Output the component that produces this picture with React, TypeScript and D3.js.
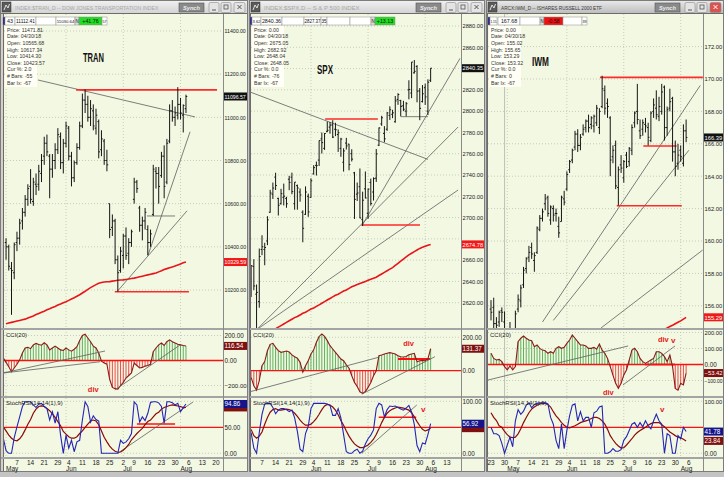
import React from "react";
import * as d3 from "d3";

const FONT = "'Liberation Sans', Arial, Helvetica, sans-serif";
const BG = "#F3F8E2";
const P_TOP = 14, P_BOT = 328, C_TOP = 330, C_BOT = 396, S_TOP = 398, S_BOT = 457, D_BOT = 471;

// trading-day calendar: index 0 = Mon 23 Apr 2018
const tickIdx = [0, 5, 10, 15, 20, 25, 29, 34, 39, 44, 49, 53, 58, 63, 68, 73, 78, 83];
const tickLbl = ["23", "30", "7", "14", "21", "29", "4", "11", "18", "25", "2", "9", "16", "23", "30", "6", "13", "20"];
const monthIdx = [6, 28, 49, 70];
const monthLbl = ["May", "Jun", "Jul", "Aug"];
const stochTicks = [100, 50, 0];

// ---------------- TRAN ----------------
const tranO = [10420,10400,10300,10280,10420,10440,10520,10560,10620,10680,10610,10690,10690,10740,10820,10880,10820,10760,10800,10850,10910,10790,10880,10950,10820,10720,10790,10860,10960,11080,11060,11000,11030,10950,10980,10850,10890,10800,10600,10490,10520,10340,10290,10360,10450,10370,10420,10620,10700,10580,10500,10520,10480,10420,10550,10750,10740,10730,10820,10700,10890,11030,11000,11010,11060,11010,11040];
const tranH = [10440,10410,10330,10420,10470,10530,10580,10640,10690,10760,10720,10740,10780,10830,10910,10920,10830,10830,10880,10950,10930,10900,10980,10960,10840,10800,10880,10980,11110,11130,11100,11080,11060,11040,10990,10940,10900,10850,10600,10550,10530,10360,10400,10460,10490,10440,10480,10720,10710,10590,10540,10580,10500,10480,10780,10770,10770,10840,10870,10900,11060,11080,11050,11140,11090,11060,11105];
const tranL = [10340,10290,10085,10250,10380,10410,10480,10540,10590,10600,10590,10640,10660,10700,10780,10820,10625,10720,10760,10830,10760,10740,10860,10800,10680,10700,10780,10850,10950,11020,10980,10960,10940,10920,10810,10820,10780,10750,10440,10450,10320,10192,10280,10300,10340,10320,10400,10600,10650,10470,10430,10480,10360,10400,10543,10670,10600,10720,10625,10690,10880,10980,10960,10990,10990,10930,11020];
const tranC = [10400,10310,10290,10410,10440,10510,10560,10620,10670,10620,10700,10680,10750,10800,10880,10840,10760,10800,10850,10920,10790,10880,10960,10820,10720,10790,10860,10960,11080,11060,11000,11040,10960,11010,10840,10900,10800,10780,10480,10520,10340,10280,10380,10450,10360,10420,10470,10700,10670,10500,10520,10560,10420,10460,10760,10740,10680,10820,10680,10880,11030,11000,11020,11060,11020,11055,11096.57];
const tranMA = [10044,10047,10050,10053,10056,10059,10062,10065,10070,10075,10080,10086,10091,10097,10102,10108,10113,10119,10124,10130,10135,10141,10146,10152,10158,10164,10171,10178,10186,10194,10203,10211,10218,10225,10231,10235,10237,10238,10239,10241,10243,10245,10246,10247,10249,10251,10253,10255,10258,10261,10264,10267,10270,10273,10276,10279,10284,10289,10295,10299,10303,10307,10311,10316,10321,10326,10329.59];
const tranCCI = [20,-15,-50,-90,-60,-30,5,60,100,105,95,124,137,128,122,142,125,85,100,115,100,85,80,100,85,75,90,110,160,200,210,180,150,115,100,60,-5,-20,-30,-150,-215,-225,-230,-200,-175,-140,-120,-100,-20,-40,-60,-55,-45,-40,-30,70,100,125,140,120,150,165,150,140,130,125,120,116.54];
const tranK = [29,5,0,0,30,51,70,90,99,99,99,93,88,95,96,90,86,64,80,58,80,35,0,35,10,25,3,22,25,64,99,90,60,72,65,62,0,0,0,0,0,0,0,25,19,22,28,38,99,93,60,70,63,77,98,99,99,97,90,58,99,99,97,93,96,80,88,94.86];
const tranD = [51,43,35,29,25,24,28,35,45,56,65,77,85,90,91,90,86,82,76,69,61,53,42,37,32,29,29,32,38,43,50,56,62,64,62,55,43,31,22,14,8,4,2,2.5,6,11,17,26,32,38,43,48,55,61,64,70,76,79,85,88,90,92,93,92,91,90,88,88.21];
const tranPTicks = [10200, 10400, 10600, 10800, 11000, 11200, 11400];
const tranCTicks = [200, 0, -200];
const tranGrayP = [[17.7, 11173, 75.3, 11002], [46.7, 10192, 72.4, 10567], [58.1, 10362, 73.5, 10933], [57.7, 10543, 68, 10543]];
const tranRedP = [[31.7, 11127, 83.4, 11127], [45.9, 10192, 73.1, 10192]];
const tranGrayC = [[4.9, -100, 42.3, 76], [4.9, -100, 40.5, -10], [45.9, -236, 69.8, 124]];
const tranRedC: number[][] = [];
const tranGrayS = [[47.1, 0.6, 74.6, 98.7]];
const tranRedS = [[54, 56.3, 68, 56.3]];
const tranNotes = [{ t: "div", i: 36, v: -250, pane: "c" }];
const tranInfo = ["Price: 11471.81", "Date: 04/30/18", "Open: 10565.68", "High: 10617.34", "Low: 10414.30", "Close: 10423.57", "Cur %: 2.0", "# Bars: -55", "Bar Ix: -67"];
const tranBar = [[3, 2, "", "#10108A"], [5, 10, "43", "#fff"], [15, 21, "11112.41", "#fff"], [36, 20, "", "#fff"], [56, 19, "11030.64", "#fff"], [75, 4, "N", "#ddd"], [79, 23, "+41.76", "#22DD22"], [102, 5, "57", "#fff"]];

// ---------------- SPX ----------------
const spxO = [2642,2654,2628,2621,2670,2670,2678,2705,2722,2738,2718,2713,2719,2718,2736,2738,2713,2730,2724,2705,2703,2720,2719,2741,2749,2754,2774,2765,2781,2785,2787,2783,2778,2765,2752,2770,2769,2760,2742,2722,2729,2698,2727,2704,2733,2724,2737,2768,2788,2779,2783,2796,2797,2790,2811,2810,2805,2800,2820,2817,2836,2842,2819,2809,2822,2800,2829];
const spxH = [2655.3,2660.9,2637.1,2670.9,2683.4,2676.3,2701.3,2726.1,2732.9,2742.1,2718.6,2727.0,2731.9,2719.5,2739.2,2742.2,2733.3,2731.0,2727.4,2706.8,2729.3,2722.5,2736.9,2749.2,2752.6,2772.4,2779.9,2779.4,2790.2,2789.8,2791.5,2789.1,2782.8,2774.9,2765.1,2774.9,2769.3,2764.2,2742.9,2732.9,2746.1,2724.3,2743.3,2727.3,2736.6,2737.8,2764.4,2784.7,2795.6,2785.9,2799.2,2804.5,2801.2,2814.2,2816.8,2810.6,2809.7,2808.6,2829.0,2846.2,2848.0,2843.2,2821.7,2824.5,2825.8,2829.9,2840.4];
const spxL = [2625.4,2631.7,2594.6,2615.3,2664.7,2655.2,2674.1,2704.5,2717.5,2725.9,2701.9,2712.2,2711.4,2709.2,2725.7,2721.9,2707.4,2707.4,2714.9,2676.8,2702.5,2700.7,2718.7,2740.5,2739.5,2748.5,2760.2,2763.6,2780.2,2778.8,2774.7,2776.5,2761.7,2757.1,2743.2,2763.9,2744.4,2752.7,2698.7,2715.6,2699.4,2692.0,2718.0,2698.9,2711.2,2716.0,2733.5,2767.2,2786.2,2770.8,2781.5,2791.7,2793.4,2789.2,2805.9,2795.1,2800.0,2795.1,2811.1,2812.2,2835.3,2808.3,2791.5,2808.1,2805.9,2796.3,2827.4];
const spxC = [2654.8,2635.7,2629.7,2663.4,2672.6,2671.9,2697.8,2723.1,2727.7,2730.1,2711.5,2722.5,2720.1,2713.0,2733.0,2724.4,2733.3,2727.8,2721.3,2689.9,2724.0,2705.3,2734.6,2746.9,2748.8,2772.4,2770.4,2779.0,2782.0,2786.9,2775.6,2782.5,2779.7,2773.8,2762.6,2767.3,2749.8,2754.9,2717.1,2723.1,2699.6,2716.3,2718.4,2726.7,2713.2,2736.6,2759.8,2784.2,2793.8,2774.0,2798.3,2801.3,2798.4,2809.6,2815.6,2804.5,2801.8,2807.0,2820.4,2846.1,2837.4,2818.8,2802.6,2816.3,2813.4,2827.2,2840.35];
const spxMA = [2591,2592.5,2594,2595.5,2597,2598.5,2600,2601.5,2603,2604.5,2606,2607,2608.5,2610,2611,2612.5,2614,2615,2616.5,2618,2619.5,2621,2622.5,2624,2625.5,2627,2628,2629.5,2631,2632,2633.5,2635,2636,2637,2638,2639,2640,2641,2642,2643,2644,2645.5,2647,2648.5,2650,2651.5,2653,2655,2657,2659,2661,2663,2665,2666.5,2668,2669.5,2671,2672,2673,2674,2674.78];
const spxCCI = [-40,-90,-116,-60,30,55,120,158,164,140,120,110,114,118,112,95,84,75,50,-8,30,60,100,125,170,205,220,205,180,150,130,110,90,70,60,35,15,-30,-70,-95,-126,-136,-125,-100,-70,-30,0,90,94,100,104,108,104,100,90,84,82,85,95,100,104,54,60,62,60,70,131.37];
const spxK = [40,10,0,40,75,95,96,96,88,76,83,86,86,84,80,83,68,42,8,3,38,52,86,96,96,96,96,96,95,92,73,73,86,68,36,3,0,0,5,8,0,4,18,28,35,45,86,96,93,70,84,91,90,91,88,85,83,87,92,79,55,15,3,20,18,36,56.92];
const spxD = [46,34,29,33,41,56,69,79,84,86,83,83,84,85,84,82,77,71,64,58,54,54,56,61,67,75,84,91,94,93,89,83,74,63,54,43,33,25,18,14,11,11,13,16,21,27,36,47,59,69,77,82,85,87,89,88,87,85,83,78,70,61,53,46,43,45,48.36];
const spxPTicks = [2620, 2640, 2660, 2680, 2700, 2720, 2740, 2760, 2780, 2800, 2820, 2840, 2860, 2880];
const spxCTicks = [200, 0];
const spxGrayP = [[5.6, 2818, 71, 2754.7], [8, 2594.6, 82.1, 2785.1], [8, 2594.6, 82.1, 2725.9], [46.7, 2692.1, 82.8, 2849.6], [61, 2794.8, 71, 2794.8]];
const spxRedP = [[33.2, 2792.6, 52.6, 2792.6], [46.6, 2693, 68.1, 2693]];
const spxGrayC = [[5.6, -126, 52.8, 80], [46.7, -140, 73.6, 84]];
const spxRedC = [[60, 70, 71.8, 70]];
const spxGrayS = [[46.7, 0, 66.9, 92.9]];
const spxRedS = [[52.9, 69.2, 66.7, 69.2]];
const spxNotes = [{ t: "div", i: 61.9, v: 150, pane: "c" }, { t: "v", i: 68.5, v: 79, pane: "s" }];
const spxInfo = ["Price: 0.00", "Date: 04/30/18", "Open: 2675.05", "High: 2682.92", "Low: 2648.04", "Close: 2648.05", "Cur %: 0.0", "# Bars: -76", "Bar Ix: -67"];
const spxBar = [[1, 2, "", "#10108A"], [3, 9, "3.62", "#fff"], [12, 21, "2840.36", "#fff"], [33, 22, "", "#fff"], [55, 17, "2827.37", "#fff"], [72, 6, "35", "#fff"], [78, 23, "", "#fff"], [101, 21, "", "#fff"], [122, 4, "N", "#ddd"], [126, 20, "+13.13", "#22DD22"]];

// ---------------- IWM ----------------
const iwmO = [155.8,155.9,154.9,155.0,155.7,155.0,153.2,154.2,153.8,153.4,155.8,156.3,157.3,158.3,159.0,159.6,158.8,159.3,160.7,161.4,162.3,162.7,161.3,162.0,161.7,160.9,161.2,162.6,163.2,164.4,165.0,165.8,166.6,165.9,166.6,167.0,167.4,167.2,167.1,167.3,167.0,168.3,169.3,168.5,167.6,165.2,165.9,163.3,164.7,163.9,165.3,164.9,165.6,167.3,168.0,166.8,166.9,167.2,167.0,166.2,168.0,168.2,167.7,168.0,169.5,167.0,168.2,168.8,165.5,164.8,165.6,164.8,166.8];
const iwmH = [156.35,156.5,155.3,155.7,155.9,155.65,154.4,155.0,154.2,155.7,156.7,157.3,158.4,159.0,159.7,159.9,159.3,160.9,161.6,162.0,162.9,162.8,162.2,162.2,162.0,161.5,162.8,163.1,164.3,165.0,165.7,166.8,166.9,166.6,167.2,167.5,167.8,167.7,167.8,168.4,168.2,170.2,169.6,168.8,167.7,165.9,166.2,164.6,165.3,165.0,165.5,165.8,167.2,168.0,169.7,167.5,167.5,167.6,167.3,168.0,168.8,169.3,168.9,169.7,169.6,168.3,169.4,168.9,166.2,166.0,165.9,167.2,167.5];
const iwmL = [155.1,154.6,153.9,154.7,155.0,153.29,152.8,153.6,152.1,153.0,155.6,155.9,157.1,158.0,158.7,158.9,158.1,159.2,160.6,161.2,161.9,161.5,161.0,161.2,161.2,160.2,161.2,162.2,163.1,164.2,164.8,165.6,165.5,165.6,166.5,166.7,166.7,166.9,166.7,167.1,166.6,168.2,167.8,167.6,164.0,164.8,163.2,162.2,164.2,163.6,164.5,164.6,165.3,167.0,167.2,166.3,166.5,166.7,165.9,166.1,167.6,167.5,167.4,167.8,166.2,166.5,168.0,164.9,164.0,164.4,164.9,164.6,166.1];
const iwmC = [155.6,154.9,154.8,155.6,155.6,153.32,154.3,153.8,153.4,155.5,156.4,157.1,158.2,158.9,159.3,159.2,159.1,160.8,161.4,161.8,162.6,161.7,162.1,161.6,161.7,160.5,162.7,162.4,164.1,164.9,165.6,166.6,165.9,166.4,166.9,167.4,167.0,167.6,167.7,168.2,168.0,169.4,168.2,168.3,165.0,165.6,163.4,164.4,164.5,164.9,164.6,165.7,167.0,167.9,167.5,166.5,167.3,167.1,166.4,167.9,168.4,167.8,168.3,169.2,167.0,168.1,168.6,165.5,164.6,165.3,165.2,166.8,166.39];
const iwmMA = [154.55,154.63,154.72,154.80,154.89,154.98,155.07,155.18,155.29];
const iwmCCI = [70,38,28,32,18,-13,-34,-9,-34,-13,143,164,178,164,153,149,111,122,101,90,86,70,80,70,101,111,101,107,132,153,184,164,143,122,122,116,101,101,107,95,128,90,70,38,-13,-66,-118,-149,-118,-66,-34,28,90,101,80,38,18,7,18,28,38,80,80,70,49,18,59,-13,-149,-160,-118,-128,-53.42];
const iwmK = [50,37.5,37.5,34,19,0,16,31,12.5,62.5,84,75,81,92.5,97,87.5,94,96,97,97,97,95,69,56,25,9,56,9,44,72,92.5,95,62.5,80,62.5,69,69,50,78,81,89,91,0,0,3,9,4,4,7,25,32,44,56,59,50,59,51,62.5,53,47,62.5,75,62.5,56,0,37.5,34,0,0,34,28,50,41.78];
const iwmD = [78,69,63,53,50,42,36,31,30,31,37.5,47,59,69,78,85,89,92.5,95,96,96,94,89,80,72,66,59,54,50,49,51,53,56,59,61,62.5,64,67,69,69,67,62.5,56,46,34,26,19,14,10,11,16,22,28,35,40,44,47,50,54,57,59,59,59,55,51,46,41,37.5,34,31,30,27,23.84];
const iwmPTicks = [156, 158, 160, 162, 164, 166, 168, 170, 172];
const iwmCTicks = [200, 100, 0, -100];
const iwmGrayP = [[19, 155.0, 77.2, 169.6], [23, 155.1, 73, 165.6], [40.6, 154.63, 78.1, 159.44]];
const iwmRedP = [[40.2, 170.1, 78.2, 170.1], [56.2, 165.86, 68.5, 165.86], [46.4, 162.18, 70.4, 162.18]];
const iwmGrayC = [[-1.1, -97, 50.6, 116], [48.7, -128, 67.9, 116]];
const iwmRedC = [[56.8, 0, 67.9, 0]];
const iwmGrayS: number[][] = [];
const iwmRedS: number[][] = [];
const iwmNotes = [{ t: "div", i: 41.3, v: -190, pane: "c" }, { t: "div", i: 61.6, v: 140, pane: "c" }, { t: "v", i: 66.4, v: 132, pane: "c" }, { t: "v", i: 62.4, v: 79, pane: "s" }];
const iwmInfo = ["Price: 0.00", "Date: 04/30/18", "Open: 155.02", "High: 155.65", "Low: 153.29", "Close: 153.32", "Cur %: 0.0", "# Bars: 0", "Bar Ix: -67"];
const iwmBar = [[2, 2, "", "#10108A"], [4, 7, "1.15", "#fff"], [12, 22, "167.68", "#fff"], [34, 20, "", "#fff"], [54, 4, "N", "#ddd"], [58, 19, "-0.58", "#EE1111"], [77, 19, "", "#fff"], [96, 5, "39", "#fff"]];

const configs = [
  { name: "tran", title: "INDEX:$TRAN_D -- DOW JONES TRANSPORTATION INDEX", tlen: 148, active: false, wx0: 0, wx1: 248, pl: 4, pr: 223, x0: -10.3, step: 2.726,
    start: 6, o: tranO, h: tranH, l: tranL, c: tranC, maStart: 6, ma: tranMA, cciStart: 5, cci: tranCCI, stStart: 5, k: tranK, d: tranD,
    pDom: [10200, 11400], pRng: [290, 31], pTicks: tranPTicks, cDom: [-200, 200], cRng: [385.5, 335.5], cTicks: tranCTicks,
    grayP: tranGrayP, redP: tranRedP, grayC: tranGrayC, redC: tranRedC, grayS: tranGrayS, redS: tranRedS, notes: tranNotes,
    label: "TRAN", lx: 79, ly: 62, llen: 21, info: tranInfo, bar: tranBar },
  { name: "spx", title: "INDEX:$SPX.D -- S & P 500 INDEX", tlen: 100, active: false, wx0: 249, wx1: 485, pl: 251, pr: 461, x0: 234.8, step: 2.72,
    start: 6, o: spxO, h: spxH, l: spxL, c: spxC, maStart: 12, ma: spxMA, cciStart: 6, cci: spxCCI, stStart: 6, k: spxK, d: spxD,
    pDom: [2620, 2880], pRng: [302.7, 26], pTicks: spxPTicks, cDom: [0, 200], cRng: [370.7, 337.3], cTicks: spxCTicks,
    grayP: spxGrayP, redP: spxRedP, grayC: spxGrayC, redC: spxRedC, grayS: spxGrayS, redS: spxRedS, notes: spxNotes,
    label: "SPX", lx: 66, ly: 74, llen: 16, info: spxInfo, bar: spxBar },
  { name: "iwm", title: "ARCX:IWM_D -- ISHARES RUSSELL 2000 ETF", tlen: 104, active: true, wx0: 486, wx1: 724, pl: 488, pr: 703, x0: 491, step: 2.71,
    start: 0, o: iwmO, h: iwmH, l: iwmL, c: iwmC, maStart: 64, ma: iwmMA, cciStart: 0, cci: iwmCCI, stStart: 0, k: iwmK, d: iwmD,
    pDom: [156, 172], pRng: [305.8, 46.6], pTicks: iwmPTicks, cDom: [-100, 200], cRng: [380.5, 332.5], cTicks: iwmCTicks,
    grayP: iwmGrayP, redP: iwmRedP, grayC: iwmGrayC, redC: iwmRedC, grayS: iwmGrayS, redS: iwmRedS, notes: iwmNotes,
    label: "IWM", lx: 44, ly: 66, llen: 17, info: iwmInfo, bar: iwmBar },
];

// rough width (em units) of a string in Liberation Sans
function emW(s: string) {
  let w = 0;
  for (const ch of s) {
    if (ch === "." || ch === ":" || ch === " ") w += 0.278;
    else if (ch === "-") w += 0.333;
    else if (/[0-9+]/.test(ch)) w += 0.556;
    else if (/[A-Z$#%]/.test(ch)) w += 0.68;
    else w += 0.5;
  }
  return w;
}
// font size that keeps a text within a width
const fitFs = (s: string, fs: number, maxW: number) => Math.min(fs, maxW / Math.max(emW(s), 0.01));

function Panel({ c }: { c: any }) {
  const x = d3.scaleLinear().domain([0, 73]).range([c.x0, c.x0 + 73 * c.step]);
  const yP = d3.scaleLinear().domain(c.pDom).range(c.pRng);
  const yC = d3.scaleLinear().domain(c.cDom).range(c.cRng);
  const yS = d3.scaleLinear().domain([0, 100]).range([453.3, 401.3]);
  const ys: any = { p: yP, c: yC, s: yS };
  const R = c.wx1 - 1;
  const f2 = d3.format(".2f");
  const id = c.name;
  const mk = (start: number, sc: any) => d3.line<number>().x((_, j) => x(start + j)).y((v) => sc(v));
  const gridCol = "#B5BAAA";
  const FS = 6.3;
  const tx = c.pr + 1.5;
  const maxW = R - tx - 0.8;
  const segs = (list: number[][], sc: any, col: string, w: number, k: string) =>
    list.map((s, j) => <line key={k + j} x1={x(s[0])} y1={sc(s[1])} x2={x(s[2])} y2={sc(s[3])} stroke={col} strokeWidth={w} />);
  const last = (a: number[]) => a[a.length - 1];
  const boxes = [
    { v: last(c.c), sc: yP, fill: "#111", pane: "p" },
    { v: last(c.ma), sc: yP, fill: "#F01818", pane: "p" },
    { v: last(c.cci), sc: yC, fill: "#7E1010", pane: "c" },
    { v: last(c.d), sc: yS, fill: "#7E1010", pane: "s" },
    { v: last(c.k), sc: yS, fill: "#14148C", pane: "s" },
  ];
  const hidden = (yy: number, pane: string) => boxes.some((b) => b.pane === pane && Math.abs(b.sc(b.v) - yy) < 6);
  const axisTxt = (v: number, sc: any, pane: string, k: string) => {
    const yy = sc(v);
    if (hidden(yy, pane)) return null;
    const s = f2(v);
    return <text key={k} x={tx} y={yy + 2.3} fontSize={fitFs(s, FS, maxW)} fill="#222">{s}</text>;
  };
  const z = yC(0);
  const cursorX = x(5);
  const tbDark = c.active ? "#3A3A3A" : "#A8A8A8";

  return (
    <g>
      <defs>
        <clipPath id={id + "P"}><rect x={c.pl} y={P_TOP} width={c.pr - c.pl} height={P_BOT - P_TOP} /></clipPath>
        <clipPath id={id + "C"}><rect x={c.pl} y={C_TOP} width={c.pr - c.pl} height={C_BOT - C_TOP} /></clipPath>
        <clipPath id={id + "S"}><rect x={c.pl} y={S_TOP} width={c.pr - c.pl} height={S_BOT - S_TOP} /></clipPath>
        <linearGradient id={id + "G"} x1="0" y1="0" x2="0" y2="1">
          <stop offset="0" stopColor={c.active ? "#E8E8E8" : "#F0F0F0"} />
          <stop offset="1" stopColor={c.active ? "#BEBEBE" : "#D4D4D4"} />
        </linearGradient>
      </defs>

      {/* window frame */}
      <rect x={c.wx0 + 0.5} y={0.5} width={c.wx1 - c.wx0 - 1} height={471} fill="#D4D0C8" stroke="#7C7C7C" />
      <rect x={c.wx0 + 1} y={1} width={c.wx1 - c.wx0 - 2} height={12} fill={`url(#${id}G)`} />
      <rect x={c.wx0 + 2} y={2} width={9} height={10} fill="#5A5A5A" stroke="#333" strokeWidth={0.5} />
      <path d={`M${c.wx0 + 4},${10} L${c.wx0 + 6},${5} L${c.wx0 + 8},${8} L${c.wx0 + 9.5},${4}`} stroke="#EEE" fill="none" strokeWidth={0.9} />
      <text x={c.wx0 + 15} y={9.8} fontSize={fitFs(c.title, 6.6, c.tlen)} fill={tbDark}>{c.title}</text>
      <rect x={c.wx1 - 69} y={3} width={25} height={9} fill="#8A8A8A" stroke="#555" strokeWidth={0.6} />
      <text x={c.wx1 - 56.5} y={9.6} fontSize={5.6} fontStyle="italic" fontWeight="bold" textAnchor="middle" fill="#EDEDED">Synch</text>
      {[39, 27, 14].map((dx, j) => (
        <g key={"btn" + j}>
          <rect x={c.wx1 - dx} y={2.5} width={j === 2 ? 11 : 10} height={10} rx={1.5}
            fill={j === 2 && c.active ? "#D9534F" : "#E4E4E4"} stroke="#8A8A8A" strokeWidth={0.6} />
          {j === 0 && <line x1={c.wx1 - dx + 3} y1={10} x2={c.wx1 - dx + 7} y2={10} stroke="#555" strokeWidth={1} />}
          {j === 1 && <rect x={c.wx1 - dx + 3} y={5} width={4} height={4} fill="none" stroke="#555" strokeWidth={0.8} />}
          {j === 2 && <path d={`M${c.wx1 - dx + 3.5},5 l4,4 M${c.wx1 - dx + 7.5},5 l-4,4`} stroke={c.active ? "#fff" : "#555"} strokeWidth={1} />}
        </g>
      ))}

      {/* plot background */}
      <rect x={c.pl} y={P_TOP} width={R - c.pl} height={D_BOT - P_TOP} fill={BG} />
      <rect x={c.wx0 + 1} y={P_TOP - 1} width={c.wx1 - c.wx0 - 2} height={1} fill="#6C6C6C" />
      <line x1={c.pl - 0.5} y1={P_TOP} x2={c.pl - 0.5} y2={D_BOT} stroke="#6C6C6C" />

      {/* grid */}
      {c.pTicks.map((v: number) => (
        <line key={"gp" + v} x1={c.pl} x2={c.pr} y1={yP(v)} y2={yP(v)} stroke={gridCol} strokeDasharray="1,2" strokeWidth={0.7} />
      ))}
      {c.cTicks.filter((v: number) => v !== 0).map((v: number) => (
        <line key={"gc" + v} x1={c.pl} x2={c.pr} y1={yC(v)} y2={yC(v)} stroke={gridCol} strokeDasharray="1,2" strokeWidth={0.7} />
      ))}
      {[100, 0].map((v) => (
        <line key={"gs" + v} x1={c.pl} x2={c.pr} y1={yS(v)} y2={yS(v)} stroke={gridCol} strokeDasharray="1,2" strokeWidth={0.7} />
      ))}
      {monthIdx.map((i) => {
        const px = x(i);
        if (px <= c.pl + 1 || px >= c.pr) return null;
        return <line key={"gv" + i} x1={px} x2={px} y1={P_TOP} y2={S_BOT} stroke={gridCol} strokeDasharray="1,2" strokeWidth={0.7} />;
      })}
      {cursorX > c.pl && cursorX < c.pr && (
        <line x1={cursorX} x2={cursorX} y1={P_TOP} y2={S_BOT} stroke="#B0B0B0" strokeWidth={0.8} />
      )}

      {/* price pane */}
      <g clipPath={`url(#${id}P)`}>
        <path d={mk(c.maStart, yP)(c.ma) || ""} fill="none" stroke="#E8141A" strokeWidth={1.6} />
        {segs(c.grayP, yP, "#5E5E5E", 0.8, "gp")}
        {segs(c.redP, yP, "#FF2A2A", 1.6, "rp")}
        {c.h.map((hv: number, j: number) => {
          const px = x(c.start + j);
          return (
            <g key={"b" + j} stroke="#151515" strokeWidth={1}>
              <line x1={px} x2={px} y1={yP(hv)} y2={yP(c.l[j])} />
              <line x1={px - 1.3} x2={px} y1={yP(c.o[j])} y2={yP(c.o[j])} />
              <line x1={px} x2={px + 1.3} y1={yP(c.c[j])} y2={yP(c.c[j])} />
            </g>
          );
        })}
      </g>

      {/* CCI pane */}
      <g clipPath={`url(#${id}C)`}>
        {c.cci.map((v: number, j: number) => {
          const px = x(c.cciStart + j);
          return <line key={"h" + j} x1={px} x2={px} y1={z} y2={yC(v)} stroke={v >= 0 ? "#4CA84C" : "#E83A3A"} strokeWidth={0.9} />;
        })}
        <line x1={c.pl} x2={c.pr} y1={z} y2={z} stroke="#FF1010" strokeWidth={1.3} />
        {segs(c.redC, yC, "#FF1010", 1.8, "rc")}
        <path d={mk(c.cciStart, yC)(c.cci) || ""} fill="none" stroke="#8B1A1A" strokeWidth={1.1} />
        {segs(c.grayC, yC, "#5E5E5E", 0.8, "gc")}
      </g>

      {/* StochRSI pane */}
      <g clipPath={`url(#${id}S)`}>
        <line x1={c.pl} x2={c.pr} y1={yS(50)} y2={yS(50)} stroke="#FF1010" strokeWidth={1.3} />
        {segs(c.redS, yS, "#FF1010", 1.5, "rs")}
        {segs(c.grayS, yS, "#5E5E5E", 0.8, "gs")}
        <path d={mk(c.stStart, yS)(c.d) || ""} fill="none" stroke="#8B0A0A" strokeWidth={1.2} />
        <path d={mk(c.stStart, yS)(c.k) || ""} fill="none" stroke="#2525B5" strokeWidth={1.1} />
      </g>

      {/* annotations */}
      {c.notes.map((n: any, j: number) => (
        <text key={"n" + j} x={x(n.i)} y={ys[n.pane](n.v)} fontSize={n.t === "v" ? 8 : 7.5} fontWeight="bold" fill="#E81818">{n.t}</text>
      ))}
      <text x={c.pl + c.lx} y={c.ly} fontSize={12} fontWeight="bold" fill="#111" textLength={c.llen} lengthAdjust="spacingAndGlyphs">{c.label}</text>
      <text x={c.pl + 2} y={C_TOP + 7} fontSize={6} fill="#222">CCI(20)</text>
      <text x={c.pl + 2} y={S_TOP + 7} fontSize={6} fill="#222">StochRSI(14,14(1),9)</text>

      {/* pane separators and axis line */}
      {[P_BOT, C_BOT, S_BOT].map((yy) => (
        <rect key={"sep" + yy} x={c.wx0 + 1} y={yy} width={c.wx1 - c.wx0 - 2} height={2} fill="#A4A4A4" />
      ))}
      <line x1={c.pr + 0.5} x2={c.pr + 0.5} y1={P_TOP} y2={D_BOT} stroke="#8A8A8A" />

      {/* axis labels */}
      {c.pTicks.map((v: number) => axisTxt(v, yP, "p", "ap" + v))}
      {c.cTicks.map((v: number) => axisTxt(v, yC, "c", "ac" + v))}
      {stochTicks.map((v: number) => axisTxt(v, yS, "s", "as" + v))}
      {boxes.map((b, j) => {
        const yy = b.sc(b.v);
        const s = f2(b.v);
        // a box mostly covered by a later box on the same pane keeps only its edge visible
        const covered = boxes.some((o, k) => k > j && o.pane === b.pane && Math.abs(o.sc(o.v) - yy) < 6);
        return (
          <g key={"vb" + j}>
            <rect x={c.pr + 1} y={yy - 4} width={R - c.pr - 1} height={8} fill={b.fill} />
            {!covered && <text x={tx} y={yy + 2.3} fontSize={fitFs(s, FS, maxW)} fill="#fff">{s}</text>}
          </g>
        );
      })}

      {/* date axis */}
      {tickIdx.map((i, j) => {
        const px = x(i);
        if (px <= c.pl + 2 || px >= c.pr - 5) return null;
        return <text key={"t" + j} x={px} y={464.5} fontSize={6.5} textAnchor="middle" fill="#222">{tickLbl[j]}</text>;
      })}
      {monthIdx.map((i, j) => {
        const px = x(i);
        if (px <= c.pl + 1 || px >= c.pr - 8) return null;
        return <text key={"m" + j} x={px} y={470.5} fontSize={6.5} fill="#222">{monthLbl[j]}</text>;
      })}

      {/* toolbar + info box */}
      {c.bar.map((t: any, j: number) => (
        <g key={"tb" + j}>
          <rect x={c.wx0 + t[0]} y={17} width={t[1]} height={8} fill={t[3]} stroke="#8C8C8C" strokeWidth={0.5} />
          {t[2] && <text x={c.wx0 + t[0] + t[1] / 2} y={23.2} fontSize={fitFs(t[2], 5.3, t[1] - 1)} textAnchor="middle" fill="#111">{t[2]}</text>}
        </g>
      ))}
      <rect x={c.pl + 1} y={26} width={32} height={61} fill="#FFFFF6" />
      {c.info.map((s: string, j: number) => (
        <text key={"i" + j} x={c.pl + 3} y={31.8 + j * 6.6} fontSize={5.2} fill="#333">{s}</text>
      ))}
    </g>
  );
}

export default function App() {
  return (
    <div style={{ position: "absolute", left: 0, top: 0, width: 724, height: 477 }}>
      <svg width={724} height={477} style={{ display: "block" }} fontFamily={FONT}>
        <rect width={724} height={477} fill="#C4C4C4" />
        {configs.map((c) => <Panel key={c.name} c={c} />)}
      </svg>
    </div>
  );
}
